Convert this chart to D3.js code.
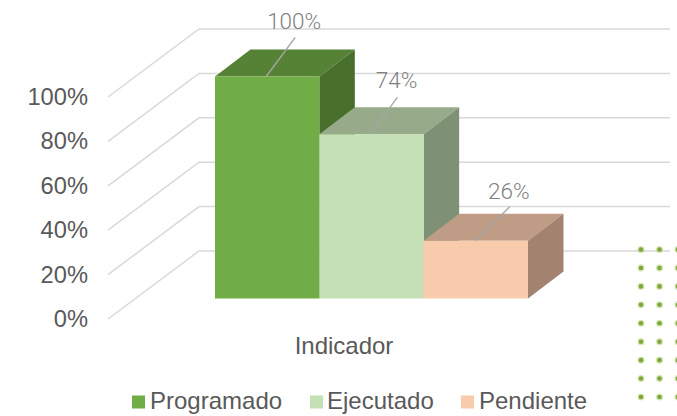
<!DOCTYPE html>
<html><head><meta charset="utf-8">
<script src="https://cdn.jsdelivr.net/npm/d3@7"></script>
<style>html,body{margin:0;padding:0;background:#fff}svg{display:block}</style>
</head><body><div id="c"></div>
<script>
const categories = ["Programado","Ejecutado","Pendiente"];
const values = [1.00,0.74,0.26];
const valueLabels = ["100%","74%","26%"];
const ticks = [0,0.2,0.4,0.6,0.8,1];
const groupLabel = ["Indicador"];
const frontColors = ["#70ad47","#c5e0b4","#f8cbad"];
const topColors = ["#568235","#97ab8a","#bf9c85"];
const sideColors = ["#48702c","#7f9175","#a38370"];
const dotRows = d3.range(9);
const dotCols = d3.range(3);

const W=677,H=416, dx=91, dy=-68, barDx=35.5, barDy=-27;
const svg=d3.select("#c").append("svg").attr("width",W).attr("height",H);
const y=d3.scaleLinear().domain([0,1]).range([319,97]);
const x=d3.scaleBand().domain(categories).range([215,528]);
const font="'Liberation Sans',Arial,sans-serif";
const leadDx=[29,27,35], leadDy=[39,37,34], labelGap=[9,9,7.5], labelShift=[-1,-1,-1];

const grid=svg.append("g").attr("fill","none").attr("stroke","#d9d9d9").attr("stroke-width",1.5);
grid.selectAll("path").data(ticks).join("path")
  .attr("d",d=>`M108,${y(d)}L${108+dx},${y(d)+dy}L670,${y(d)+dy}`);

const axis=svg.append("g").attr("transform","translate(95,0)")
  .call(d3.axisLeft(y).tickValues(ticks).tickFormat(d3.format(".0%")).tickSize(0).tickPadding(7));
axis.select(".domain").remove();
axis.selectAll("text").attr("font-family",font).attr("font-size",23.7).attr("fill","#595959");

const base=298.5, unit=y(0)-y(1);
const bars=svg.append("g").selectAll("g").data(categories).join("g");
bars.each(function(c,i){
  const g=d3.select(this), l=x(c), r=l+x.bandwidth(), t=base-values[i]*unit;
  g.append("path").attr("fill",topColors[i])
   .attr("d",`M${l},${t}L${l+barDx},${t+barDy}L${r+barDx},${t+barDy}L${r},${t}Z`);
  g.append("path").attr("fill",sideColors[i])
   .attr("d",`M${r},${t}L${r+barDx},${t+barDy}L${r+barDx},${base+barDy}L${r},${base}Z`);
  g.append("rect").attr("x",l).attr("y",t).attr("width",x.bandwidth()).attr("height",base-t).attr("fill",frontColors[i]);
});

const lab=svg.append("g").selectAll("g").data(categories).join("g");
lab.each(function(c,i){
  const g=d3.select(this), mid=x(c)+x.bandwidth()/2, t=base-values[i]*unit;
  const ex=mid-1+leadDx[i], ey=t-leadDy[i];
  g.append("line").attr("x1",mid-1).attr("y1",t).attr("x2",ex).attr("y2",ey)
    .attr("stroke","#a6a6a6").attr("stroke-width",1.3);
  g.append("text").attr("x",ex+labelShift[i]).attr("y",ey-labelGap[i]).attr("text-anchor","middle")
    .attr("font-family","Roboto,sans-serif").attr("font-weight",300)
    .attr("font-size",22.5).attr("fill","#7f7f7f").text(valueLabels[i]);
});

svg.append("text").attr("x",344).attr("y",354).attr("text-anchor","middle")
  .attr("font-family",font).attr("font-size",24).attr("fill","#595959").text(groupLabel[0]);

const legendX=[132,310,461];
const legendTextX=[150,327,479];
const lg=svg.append("g").selectAll("g").data(categories).join("g");
lg.append("rect").attr("x",(d,i)=>legendX[i]).attr("y",395.5).attr("width",13).attr("height",13).attr("fill",(d,i)=>frontColors[i]);
lg.append("text").attr("x",(d,i)=>legendTextX[i]).attr("y",409).attr("font-family",font).attr("font-size",24).attr("fill","#595959").text(d=>d);

const dotX=d3.scalePoint().domain(dotCols).range([641,678]);
const dotY=d3.scalePoint().domain(dotRows).range([249.5,397]);
const dots=svg.append("g");
dotRows.forEach(r=>dotCols.forEach(c=>{
  dots.append("circle").attr("cx",dotX(c)).attr("cy",dotY(r)).attr("r",3.6).attr("fill","#9cc24f").attr("opacity",.4);
  dots.append("circle").attr("cx",dotX(c)).attr("cy",dotY(r)).attr("r",2.3).attr("fill","#7fa83a");
}));
</script></body></html>
